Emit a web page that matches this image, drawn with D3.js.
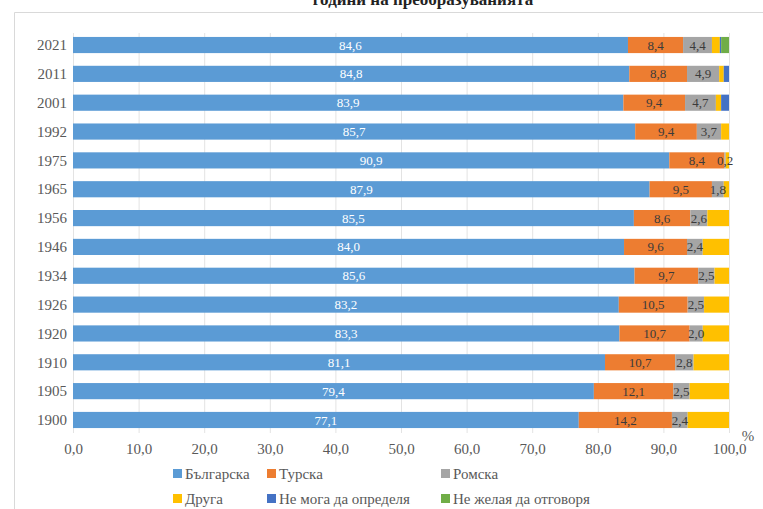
<!DOCTYPE html>
<html>
<head>
<meta charset="utf-8">
<script src="https://cdn.jsdelivr.net/npm/d3@7"></script>
<style>
  body { margin: 0; background: #fff; }
  svg { display: block; font-family: "Liberation Serif", "DejaVu Serif", serif; }
</style>
</head>
<body>
<div id="chart"></div>
<script>
// data
var years = ['2021', '2011', '2001', '1992', '1975', '1965', '1956', '1946', '1934', '1926', '1920', '1910', '1905', '1900'];
var bulgarian = [84.6, 84.8, 83.9, 85.7, 90.9, 87.9, 85.5, 84.0, 85.6, 83.2, 83.3, 81.1, 79.4, 77.1];
var turkish   = [8.4, 8.8, 9.4, 9.4, 8.4, 9.5, 8.6, 9.6, 9.7, 10.5, 10.7, 10.7, 12.1, 14.2];
var roma      = [4.4, 4.9, 4.7, 3.7, 0.2, 1.8, 2.6, 2.4, 2.5, 2.5, 2.0, 2.8, 2.5, 2.4];
var other     = [1.2, 0.7, 0.8, 1.2, 0.5, 0.8, 3.3, 4.0, 2.2, 3.8, 4.0, 5.4, 6.0, 6.3];
var cannot    = [0.2, 0.8, 1.2, 0, 0, 0, 0, 0, 0, 0, 0, 0, 0, 0];
var noAnswer  = [1.2, 0, 0, 0, 0, 0, 0, 0, 0, 0, 0, 0, 0, 0];
var seriesNames = ['Българска', 'Турска', 'Ромска', 'Друга', 'Не мога да определя', 'Не желая да отговоря'];
var xTicks = [0, 10, 20, 30, 40, 50, 60, 70, 80, 90, 100];
var title = 'години на преобразуванията';

var colors = ['#5b9bd5', '#ed7d31', '#a5a5a5', '#ffc000', '#4472c4', '#70ad47'];
var labelled = [true, true, true, false, false, false];
var labelColor = ['#ffffff', '#3b3b3b', '#3b3b3b'];

var W = 763, H = 509;
var svg = d3.select('#chart').append('svg').attr('width', W).attr('height', H);

// frame of the chart area
svg.append('path')
    .attr('d', 'M14.5,' + H + 'V12.5H' + W)
    .attr('fill', 'none').attr('stroke', '#d9d9d9');

svg.append('text')
    .attr('x', 423).attr('y', 5)
    .attr('text-anchor', 'middle')
    .style('font-size', '17px').style('font-weight', 'bold').style('fill', '#222')
    .text(title);

var x = d3.scaleLinear().domain([0, 100]).range([73, 729]);
var y = d3.scaleBand().domain(years).range([30.6, 434.4]).paddingInner(0.44).paddingOuter(0.22);

// gridlines
svg.append('g').selectAll('line').data(xTicks).enter().append('line')
    .attr('x1', function (d) { return x(d) + 0.5; })
    .attr('x2', function (d) { return x(d) + 0.5; })
    .attr('y1', 33).attr('y2', 433)
    .attr('stroke', '#e3e3e3');

var table = years.map(function (yr, i) {
    return { year: yr, bulgarian: bulgarian[i], turkish: turkish[i], roma: roma[i],
             other: other[i], cannot: cannot[i], noAnswer: noAnswer[i] };
});
var keys = ['bulgarian', 'turkish', 'roma', 'other', 'cannot', 'noAnswer'];
var stacked = d3.stack().keys(keys)(table);

var groups = svg.append('g').selectAll('g').data(stacked).enter().append('g')
    .attr('fill', function (d, i) { return colors[i]; });

groups.selectAll('rect').data(function (d) { return d; }).enter().append('rect')
    .attr('x', function (d) { return x(d[0]); })
    .attr('width', function (d) { return Math.max(0, x(d[1]) - x(d[0])); })
    .attr('y', function (d) { return y(d.data.year); })
    .attr('height', y.bandwidth());

stacked.forEach(function (s, si) {
    if (!labelled[si]) return;
    svg.append('g').selectAll('text').data(s).enter().append('text')
        .attr('x', function (d) { return x((d[0] + d[1]) / 2); })
        .attr('y', function (d) { return y(d.data.year) + y.bandwidth() / 2; })
        .attr('dy', '0.35em')
        .attr('text-anchor', 'middle')
        .style('font-size', '13px')
        .style('fill', labelColor[si])
        .text(function (d) { return (d[1] - d[0]).toFixed(1).replace('.', ','); });
});

// y axis labels
svg.append('g').selectAll('text').data(years).enter().append('text')
    .attr('x', 67)
    .attr('y', function (d) { return y(d) + y.bandwidth() / 2; })
    .attr('dy', '0.35em')
    .attr('text-anchor', 'end')
    .style('font-size', '15px').style('fill', '#595959')
    .text(function (d) { return d; });

// x axis
var xAxis = d3.axisBottom(x).tickValues(xTicks).tickSize(0).tickPadding(10)
    .tickFormat(function (d) { return d.toFixed(1).replace('.', ','); });
var gx = svg.append('g').attr('transform', 'translate(0,433)').call(xAxis);
gx.select('.domain').remove();
gx.selectAll('text').style('font-size', '15px').style('fill', '#595959')
    .style('font-family', '"Liberation Serif", serif');

svg.append('text').attr('x', 748).attr('y', 441)
    .attr('text-anchor', 'middle')
    .style('font-size', '15px').style('fill', '#595959').text('%');

// legend
var legendPos = [[177, 474], [271, 474], [445, 474], [177, 499], [271, 499], [445, 499]];
var legend = svg.append('g').selectAll('g').data(seriesNames).enter().append('g')
    .attr('transform', function (d, i) { return 'translate(' + legendPos[i][0] + ',' + legendPos[i][1] + ')'; });
legend.append('rect').attr('x', -4).attr('y', -5).attr('width', 9).attr('height', 9)
    .attr('fill', function (d, i) { return colors[i]; });
legend.append('text').attr('x', 8).attr('dy', '0.35em')
    .style('font-size', '15px').style('fill', '#595959')
    .text(function (d) { return d; });
</script>
</body>
</html>
